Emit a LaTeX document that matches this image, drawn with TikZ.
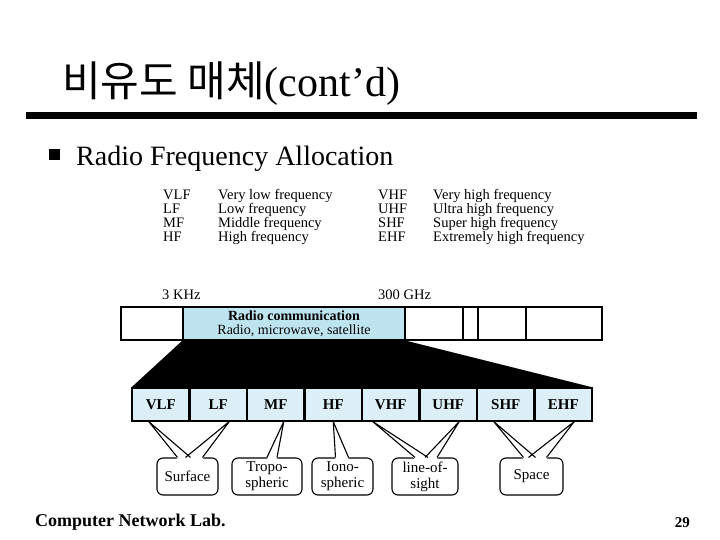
\documentclass[tikz,border=0pt]{standalone}
\usepackage{fontspec}
\setmainfont{Liberation Serif}
\newfontfamily\kofont{Noto Sans CJK KR}
\usepackage{tikz}
\usetikzlibrary{calc}
\tikzset{>=latex}
\definecolor{radiocol}{RGB}{190,228,240}
\definecolor{bandcol}{RGB}{221,239,246}
\tikzset{
    barcell/.style={draw, line width=1.2pt, inner sep=0pt},
    bandcell/.style={draw, line width=1.2pt, fill=bandcol, minimum width=57.5pt, minimum height=33pt, inner sep=0pt, text height=10.5pt, text depth=0pt, font=\fontsize{15}{15}\selectfont\bfseries},
    callbox/.style={draw, line width=1.1pt, rounded corners=6pt, fill=white, minimum height=37pt, inner sep=0pt, align=center, font=\fontsize{15}{16}\selectfont},
    legend/.style={anchor=base west, inner sep=0pt, font=\fontsize{14.5}{14.5}\selectfont},
    callout/.style={line width=1.1pt, line join=round},
}

\begin{document}
\begin{tikzpicture}[x=1pt, y=-1pt]
    \useasboundingbox (0,0) rectangle (720,540);
    \begin{scope}

        \node[anchor=base west, inner sep=0pt, font=\fontsize{42}{42}\selectfont] (title) at (62,97) {{\kofont 비유도 매체}(cont’d)};
        \fill (26,112) rectangle (697,119);
        \node[fill, minimum size=11pt, inner sep=0pt] (bullet) at (54,155) {};
        \node[anchor=base west, inner sep=0pt, font=\fontsize{28}{28}\selectfont] (topic) at (76,166) {Radio Frequency Allocation};

        \foreach \ab/\desc [count=\i] in {VLF/Very low frequency, LF/Low frequency, MF/Middle frequency, HF/High frequency}
        {
            \node[legend] (lowab\i) at (163, {185.5+14*\i}) {\ab};
            \node[legend] (lowtx\i) at (218, {185.5+14*\i}) {\desc};
        }
        \foreach \ab/\desc [count=\i] in {VHF/Very high frequency, UHF/Ultra high frequency, SHF/Super high frequency, EHF/Extremely high frequency}
        {
            \node[legend] (highab\i) at (378, {185.5+14*\i}) {\ab};
            \node[legend] (hightx\i) at (433, {185.5+14*\i}) {\desc};
        }

        \node[legend] (lowedge) at (162,299) {3 KHz};
        \node[legend] (highedge) at (378,299) {300 GHz};

        \node[barcell, fill=radiocol, minimum width=222pt, minimum height=33pt, align=center, font=\fontsize{14}{13.5}\selectfont] (radio) at (294,323.5) {\textbf{Radio communication}\\Radio, microwave, satellite};
        \foreach \l/\r in {121/183, 405/463, 463/478, 478/526, 526/602}
        {
            \draw[line width=1.2pt] (\l,307) rectangle (\r,340);
        }

        \foreach \lbl/\nm [count=\i from 0] in {VLF/vlf, LF/lf, MF/mf, HF/hf, VHF/vhf, UHF/uhf, SHF/shf, EHF/ehf}
        {
            \node[bandcell] (\nm) at ({160.75+57.5*\i}, 404.5) {\lbl};
        }
        \fill (radio.south west) -- (radio.south east) -- (ehf.north east) -- (vlf.north west) -- cycle;
        \foreach \nm in {vlf, lf, mf, hf, vhf, uhf, shf, ehf}
        {
            \draw[line width=1.2pt] (\nm.south west) rectangle (\nm.north east);
        }

        \node[callbox, minimum width=61pt] (surface) at (187.5,476.5) {Surface};
        \node[callbox, minimum width=70pt] (tropo) at (267,476.5) {Tropo-\\spheric};
        \node[callbox, minimum width=61pt] (iono) at (342.5,476.5) {Iono-\\spheric};
        \node[callbox, minimum width=66pt] (los) at (425,476.5) {line-of-\\sight};
        \node[callbox, minimum width=63pt] (space) at (531.5,476.5) {Space};

        \foreach \cell/\dx/\bx/\ba/\bb in {vlf/-12/surface/-10/3, lf/11/surface/-2/15, mf/8/tropo/0/10, hf/0/iono/-7/6, vhf/-18/los/-10/3, uhf/11/los/0/12, shf/-12/space/-8/4, ehf/11/space/-3/15}
        {
            \fill[white] ($(\cell.south)+(\dx,0.8)$) -- ($(\bx.north)+(\ba,1.5)$) -- ($(\bx.north)+(\bb,1.5)$) -- cycle;
        }
        \foreach \cell/\dx/\bx/\ba/\bb in {vlf/-12/surface/-10/3, lf/11/surface/-2/15, mf/8/tropo/0/10, hf/0/iono/-7/6, vhf/-18/los/-10/3, uhf/11/los/0/12, shf/-12/space/-8/4, ehf/11/space/-3/15}
        {
            \draw[callout] ($(\bx.north)+(\ba,0)$) -- ($(\cell.south)+(\dx,0)$) -- ($(\bx.north)+(\bb,0)$);
        }

        \node[anchor=base west, inner sep=0pt, font=\fontsize{18}{18}\selectfont\bfseries] (lab) at (35,526) {Computer Network Lab.};
        \node[anchor=base east, inner sep=0pt, font=\fontsize{15}{15}\selectfont\bfseries] (page) at (690,527) {29};
    \end{scope}
\end{tikzpicture}
\end{document}
